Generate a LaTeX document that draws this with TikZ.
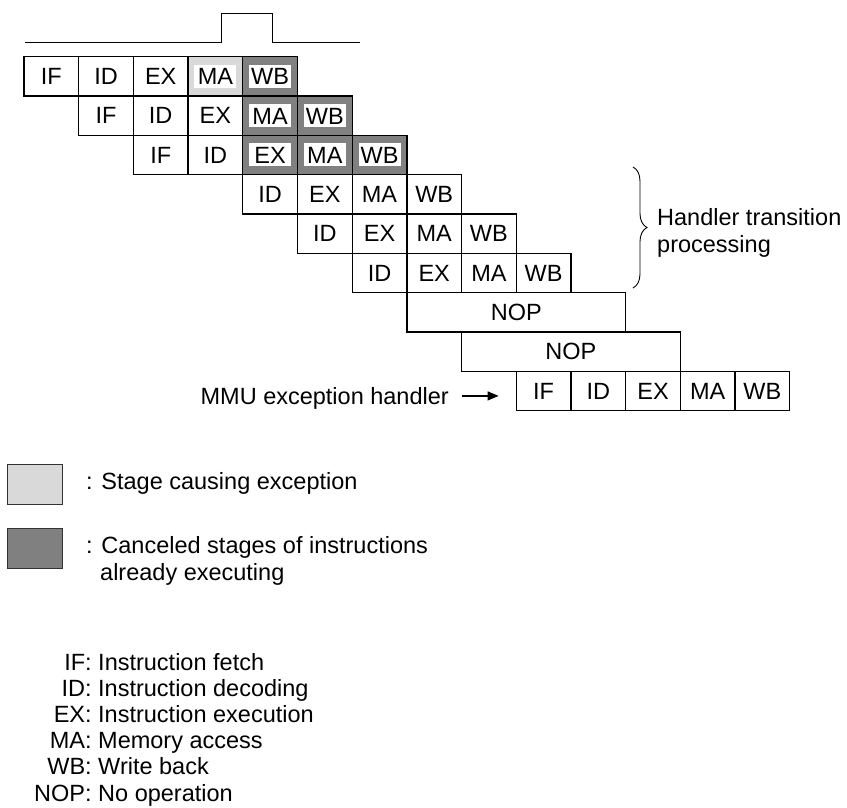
\documentclass[tikz,border=0pt]{standalone}
\usepackage{fontspec}
\setmainfont{Liberation Sans}
\usetikzlibrary{decorations.pathreplacing,arrows.meta}
\definecolor{darkg}{RGB}{128,128,128}
\definecolor{lightg}{RGB}{217,217,217}
\newcommand\wbx[1]{{\setlength\fboxsep{3pt}\colorbox{white}{\makebox[36pt]{\rule{0pt}{17pt}#1}}}}
\newcommand\pcell[5]{\node[cell,#5] (#1) at ({23.3+#2*54.7},{56+#3*39.33}) {#4};}
\newcommand\dfline[4]{\node[txt] (#1) at (34,{670+#2*26.2}) {\makebox[57.5pt][r]{#3}\ #4};}
\begin{document}
\begin{tikzpicture}[x=1pt,y=-1pt,
  every node/.style={font=\fontsize{23.5}{27}\selectfont},
  cell/.style={draw, line width=1.3pt, minimum width=54.7pt, minimum height=39.33pt, inner sep=0pt, anchor=north west},
  nopcell/.style={cell, minimum width=218.8pt},
  dk/.style={fill=darkg},
  lt/.style={fill=lightg},
  txt/.style={inner sep=0pt, anchor=base west},
  legbox/.style={draw=black!80, line width=1pt}
]
\useasboundingbox (0,0) rectangle (847,807);
% clock
\coordinate (k0) at (25,42.3);
\coordinate (k1) at (221.7,42.3);
\coordinate (k2) at (221.7,13.3);
\coordinate (k3) at (272.7,13.3);
\coordinate (k4) at (272.7,42.3);
\coordinate (k5) at (360,42.3);
\draw[line width=1.2pt] (k0) -- (k1) -- (k2) -- (k3) -- (k4) -- (k5);
% row 0
\pcell{r0c0}{0}{0}{IF}{}
\pcell{r0c1}{1}{0}{ID}{}
\pcell{r0c2}{2}{0}{EX}{}
\pcell{r0c3}{3}{0}{\wbx{MA}}{lt}
\pcell{r0c4}{4}{0}{\wbx{WB}}{dk}
% row 1
\pcell{r1c1}{1}{1}{IF}{}
\pcell{r1c2}{2}{1}{ID}{}
\pcell{r1c3}{3}{1}{EX}{}
\pcell{r1c4}{4}{1}{\wbx{MA}}{dk}
\pcell{r1c5}{5}{1}{\wbx{WB}}{dk}
% row 2
\pcell{r2c2}{2}{2}{IF}{}
\pcell{r2c3}{3}{2}{ID}{}
\pcell{r2c4}{4}{2}{\wbx{EX}}{dk}
\pcell{r2c5}{5}{2}{\wbx{MA}}{dk}
\pcell{r2c6}{6}{2}{\wbx{WB}}{dk}
% row 3
\pcell{r3c4}{4}{3}{ID}{}
\pcell{r3c5}{5}{3}{EX}{}
\pcell{r3c6}{6}{3}{MA}{}
\pcell{r3c7}{7}{3}{WB}{}
% row 4
\pcell{r4c5}{5}{4}{ID}{}
\pcell{r4c6}{6}{4}{EX}{}
\pcell{r4c7}{7}{4}{MA}{}
\pcell{r4c8}{8}{4}{WB}{}
% row 5
\pcell{r5c6}{6}{5}{ID}{}
\pcell{r5c7}{7}{5}{EX}{}
\pcell{r5c8}{8}{5}{MA}{}
\pcell{r5c9}{9}{5}{WB}{}
% NOPs
\pcell{nop1}{7}{6}{NOP}{nopcell}
\pcell{nop2}{8}{7}{NOP}{nopcell}
% handler row
\pcell{r8c9}{9}{8}{IF}{}
\pcell{r8c10}{10}{8}{ID}{}
\pcell{r8c11}{11}{8}{EX}{}
\pcell{r8c12}{12}{8}{MA}{}
\pcell{r8c13}{13}{8}{WB}{}
% brace
\coordinate (bt) at (633,167);
\coordinate (bb) at (633,288);
\draw[decorate, decoration={brace, amplitude=14pt}, line width=0.9pt] (bt) -- (bb);
\node[txt] (ht1) at (657,225) {Handler transition};
\node[txt] (ht2) at (657,252) {processing};
% MMU arrow
\node[inner sep=0pt, anchor=base east] (mmu) at (449,404) {MMU exception handler};
\draw[-{Triangle[length=11pt,width=9pt]}, line width=1.3pt]
  ([xshift=13pt,yshift=2pt]mmu.east) -- ([xshift=-17pt,yshift=2pt]mmu.east -| r8c9.west);
% legend
\draw[legbox, fill=lightg] (7.7,464) rectangle (62.7,504);
\draw[legbox, fill=darkg] (7.7,528) rectangle (62.7,568);
\node[txt] (lg1) at (86,489) {: Stage causing exception};
\node[txt] (lg2) at (86,553) {: Canceled stages of instructions};
\node[txt] (lg3) at (100,580) {already executing};
% definitions
\dfline{d1}{0}{IF:}{Instruction fetch}
\dfline{d2}{1}{ID:}{Instruction decoding}
\dfline{d3}{2}{EX:}{Instruction execution}
\dfline{d4}{3}{MA:}{Memory access}
\dfline{d5}{4}{WB:}{Write back}
\dfline{d6}{5}{NOP:}{No operation}
\end{tikzpicture}
\end{document}
